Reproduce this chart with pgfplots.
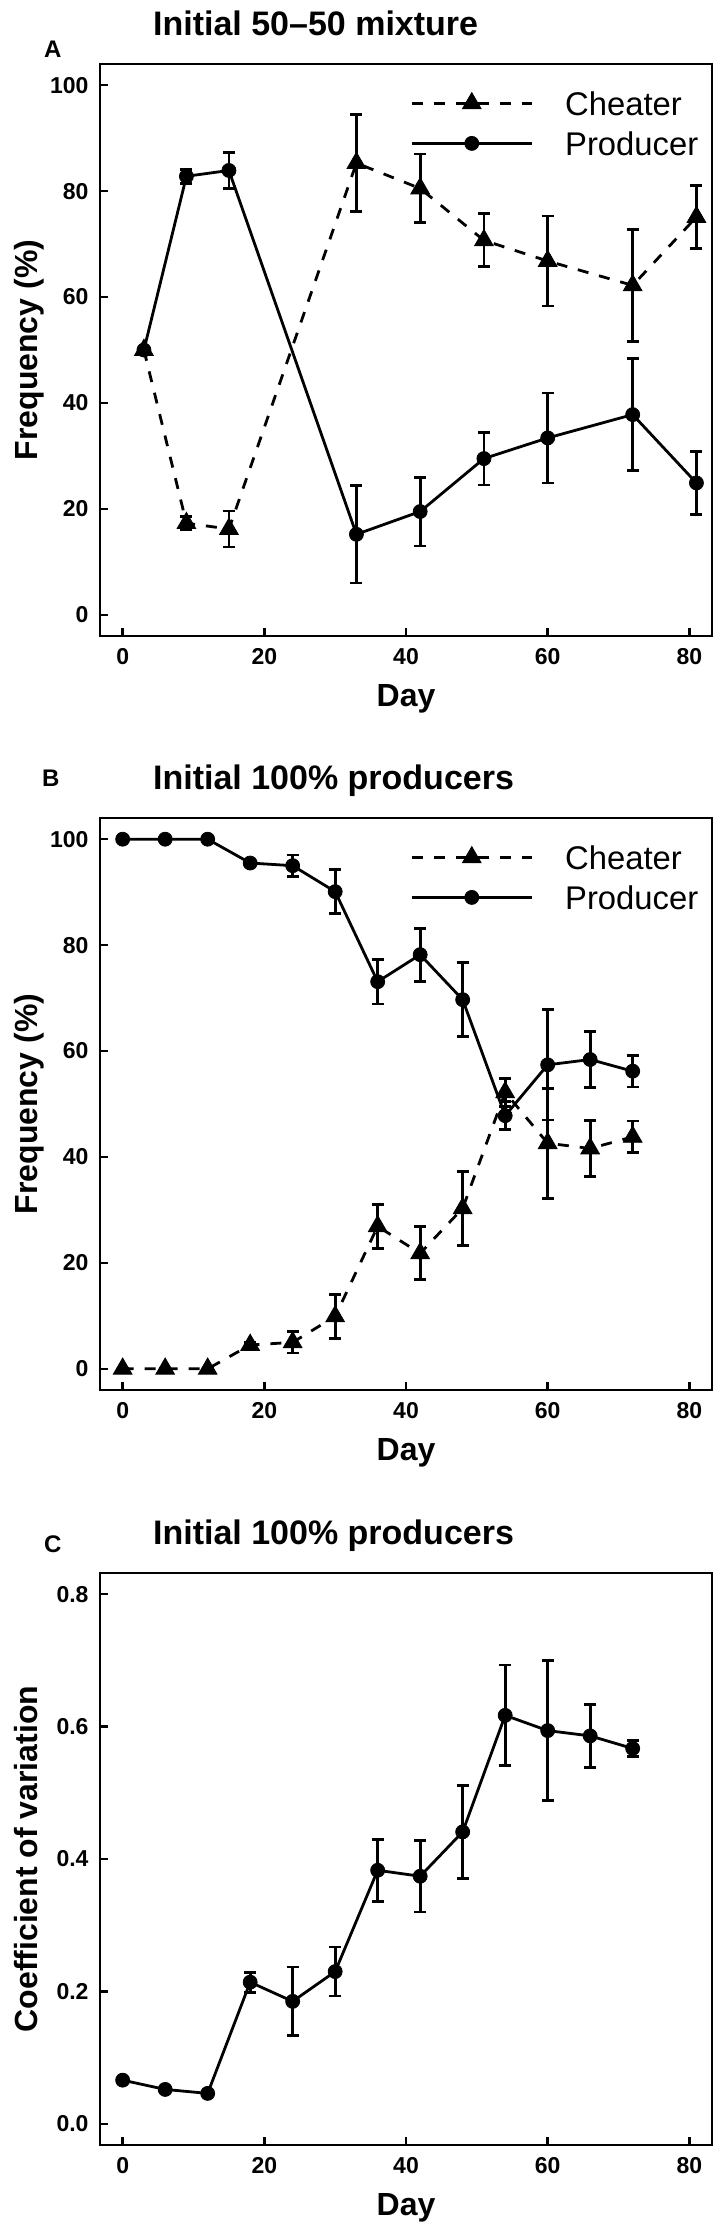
\documentclass[border=0pt]{standalone}
\usepackage{fontspec}
\setmainfont{Liberation Sans}
\usepackage{pgfplots}
\usepackage{pgfplotstable}
\pgfplotsset{compat=1.18}

\pgfplotstableread{
x prod perr ch
3 50 0 50
9 82.8 1.3 17.3
15 83.9 3.4 16.2
33 15.2 9.2 85.3
42 19.5 6.5 80.5
51 29.5 5.0 70.7
60 33.4 8.5 66.8
72 37.8 10.6 62.2
81 24.9 5.9 75.1
}\dataA

\pgfplotstableread{
x prod perr ch
0 100 0 0
6 100 0 0
12 100 0 0
18 95.5 0.5 4.5
24 95.0 2.0 5.0
30 90.1 4.2 9.9
36 73.1 4.2 26.9
42 78.2 5.0 21.8
48 69.7 7.0 30.3
54 47.8 2.6 52.2
60 57.4 10.4 42.6
66 58.4 5.3 41.6
72 56.2 3.0 43.8
}\dataB

\pgfplotstableread{
x cv err
0 0.066 0
6 0.052 0
12 0.046 0
18 0.214 0.015
24 0.185 0.052
30 0.230 0.037
36 0.383 0.047
42 0.374 0.054
48 0.441 0.070
54 0.617 0.076
60 0.594 0.106
66 0.586 0.048
72 0.567 0.0125
}\dataC

\pgfplotsset{
  every axis title/.style={at={(axis description cs:0.0752,1.049)}, anchor=base west,
    font=\fontsize{17}{20}\selectfont\bfseries},
  panel/.style={
    scale only axis, width=306pt, height=286pt,
    anchor=north west,
    xmin=-3.2, xmax=83.2,
    xtick={0,20,40,60,80},
    tick align=inside, xtick pos=bottom, ytick pos=left,
    major tick length=4pt,
    tick style={black, line width=1.2pt},
    axis line style={line width=1.2pt},
    /pgf/number format/assume math mode=true,
    tick label style={font=\fontsize{11.5}{13}\selectfont\bfseries},
    xticklabel style={yshift=-2.7pt},
    yticklabel style={xshift=-2.2pt},
    label style={font=\fontsize{16}{19}\selectfont\bfseries},
    xlabel={Day},
    xlabel style={at={(axis description cs:0.5,-0.1240)}, anchor=base},
    ylabel style={at={(axis description cs:-0.1029,0.5)}, anchor=base},
    clip mode=individual,
    legend cell align=left,
    legend image code/.code={%
      \draw[mark repeat=2,mark phase=2,##1] plot coordinates {(0pt,0pt) (30pt,0pt) (60pt,0pt)};
      \path[draw=none, fill=none] (0pt,-10pt) rectangle (60pt,10pt);},
    legend style={draw=none, fill=none, inner sep=0pt, row sep=0pt, column sep=16pt,
      at={(axis description cs:0.5065,0.9668)}, anchor=north west,
      font=\fontsize{16.4}{19}\selectfont,
      nodes={inner sep=0pt, text height=11.8pt, text depth=0pt}},
  },
  prod/.style={black, line width=1.4pt, solid, mark=*, mark size=3.5pt,
    mark options={solid, line width=0.4pt},
    error bars/.cd, y dir=both, y explicit,
    error bar style={line width=1.4pt, solid},
    error mark options={rotate=90, mark size=3pt, line width=1.4pt, solid}},
  cheat/.style={black, line width=1.4pt, dash pattern=on 5.5pt off 5.5pt, mark=triangle*, mark size=5.4pt,
    mark options={solid, line width=0.4pt},
    error bars/.cd, y dir=both, y explicit,
    error bar style={line width=1.4pt, solid},
    error mark options={rotate=90, mark size=3pt, line width=1.4pt, solid}},
}

\begin{document}
\begin{tikzpicture}
\path[use as bounding box] (0pt,0pt) rectangle (362pt,-1119pt);

% Panel A
\begin{axis}[panel, at={(50pt,-32pt)},
  ymin=-4, ymax=104, ytick={0,20,40,60,80,100},
  ylabel={Frequency (\%)},
  title={Initial 50–50 mixture}]
\addplot[cheat] table[x=x, y=ch, y error=perr] {\dataA};
\addlegendentry{Cheater}
\addplot[prod] table[x=x, y=prod, y error=perr] {\dataA};
\addlegendentry{Producer}
\node[font=\fontsize{12}{14}\selectfont\bfseries, anchor=base west] at (axis description cs:-0.103,1.012) {A};
\end{axis}

% Panel B
\begin{axis}[panel, at={(50pt,-409pt)},
  ymin=-4, ymax=104, ytick={0,20,40,60,80,100},
  ylabel={Frequency (\%)},
  title={Initial 100\% producers}]
\addplot[cheat] table[x=x, y=ch, y error=perr] {\dataB};
\addlegendentry{Cheater}
\addplot[prod] table[x=x, y=prod, y error=perr] {\dataB};
\addlegendentry{Producer}
\node[font=\fontsize{12}{14}\selectfont\bfseries, anchor=base west] at (axis description cs:-0.106,1.055) {B};
\end{axis}

% Panel C
\begin{axis}[panel, at={(50pt,-786.5pt)},
  ymin=-0.032, ymax=0.832, ytick={0,0.2,0.4,0.6,0.8},
  yticklabel style={/pgf/number format/.cd, fixed, fixed zerofill, precision=1},
  ylabel={Coefficient of variation},
  title={Initial 100\% producers}]
\addplot[prod] table[x=x, y=cv, y error=err] {\dataC};
\node[font=\fontsize{12}{14}\selectfont\bfseries, anchor=base west] at (axis description cs:-0.103,1.0367) {C};
\end{axis}
\end{tikzpicture}
\end{document}
